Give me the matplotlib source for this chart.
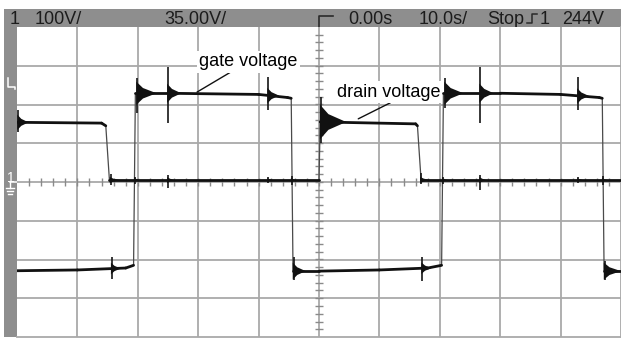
"""
Oscilloscope capture: gate and drain voltage of a switching stage.
"""

import numpy as np
import matplotlib
matplotlib.use("Agg")
import matplotlib.pyplot as plt
from matplotlib.patches import Rectangle, Polygon
from matplotlib.collections import LineCollection

plt.rcParams["font.family"] = ["Liberation Sans", "DejaVu Sans"]

# time in s (10 s/div, 0 s at centre), level in screen divisions
gate_t = [-50.0, -40.0, -32.0, -30.7, -30.4, -25.0, -10.0, -5.2, -4.6, -4.3,
          0.0, 10.0, 18.0, 20.3, 20.6, 30.0, 40.0, 46.4, 46.9, 47.2, 50.0]
gate_v = [-2.29, -2.27, -2.22, -2.15, 2.29, 2.29, 2.26, 2.18, 2.16, -2.30,
          -2.30, -2.27, -2.22, -2.15, 2.29, 2.29, 2.26, 2.18, 2.16, -2.30, -2.30]

drain_t = [-50.0, -36.0, -35.3, -34.7, 0.0, 0.2, 16.0, 16.3, 16.9, 50.0]
drain_v = [1.54, 1.52, 1.45, 0.05, 0.05, 1.55, 1.50, 1.45, 0.05, 0.05]

# ringing bursts: spike extent and decaying envelope
gate_spike_t = [-34.3, -30.1, -25.0, -8.4, -4.2, 17.1, 20.9, 26.7, 42.9, 47.3]
gate_spike_hi = [-1.94, 2.68, 2.97, 2.71, -1.94, -1.94, 2.68, 2.97, 2.71, -2.05]
gate_spike_lo = [-2.50, 1.78, 1.52, 1.86, -2.53, -2.55, 1.90, 1.52, 1.86, -2.53]
gate_ring_len = [1.5, 3.2, 2.2, 1.8, 2.0, 1.5, 3.0, 2.2, 1.8, 2.7]
gate_ring_amp = [0.15, 0.30, 0.25, 0.20, 0.22, 0.15, 0.30, 0.25, 0.20, 0.22]

drain_spike_t = [-49.8, -34.5, -30.4, -25.0, -8.4, -4.5, 0.3, 16.9, 20.6, 26.7, 42.9, 47.0]
drain_spike_hi = [1.86, 0.20, 0.14, 0.18, 0.13, 0.15, 2.19, 0.22, 0.14, 0.18, 0.13, 0.15]
drain_spike_lo = [1.30, -0.08, -0.05, -0.15, -0.03, -0.08, 1.00, -0.05, -0.05, -0.20, -0.03, -0.08]
drain_ring_len = [1.7, 1.5, 0.8, 1.0, 0.8, 0.8, 4.2, 1.5, 0.8, 1.0, 0.8, 0.8]
drain_ring_amp = [0.20, 0.08, 0.05, 0.08, 0.05, 0.05, 0.45, 0.08, 0.05, 0.08, 0.05, 0.05]

header = [("1", 10), ("100V/", 35), ("35.00V/", 164), ("0.00s", 348),
          ("10.0s/", 419), ("Stop", 487), ("1", 540), ("244V", 562)]

W, H = 621, 341
GRID = "#a9a9a9"
PANEL = "#8e8e8e"

fig = plt.figure(figsize=(W / 100, H / 100), dpi=100)

# pixel-space layer for the scope frame
bg = fig.add_axes([0, 0, 1, 1])
bg.set_xlim(0, W)
bg.set_ylim(H, 0)
bg.axis("off")
bg.add_patch(Rectangle((4, 9), W - 4, 18, color=PANEL, lw=0))
bg.add_patch(Rectangle((4, 9), 13, 328, color=PANEL, lw=0))
for txt, x in header:
    bg.text(x, 24, txt, fontsize=13, color="#1c1c1c", ha="left", va="baseline")
# trigger position / edge symbols
bg.plot([319, 319, 333], [27, 16, 16], color="#2a2a2a", lw=1.2)
bg.plot([527, 532, 532, 537], [22.5, 22.5, 13.5, 13.5], color="#2a2a2a", lw=1.1)
# channel markers on the left strip
bg.plot([7.5, 7.5, 14.5, 14.5], [78, 87, 87, 89], color="white", lw=1.1)
bg.text(6.5, 182, "1", fontsize=10, color="white", ha="left", va="baseline")
bg.plot([10, 17], [182, 182], color="white", lw=1.1)
bg.plot([10, 10], [182, 188], color="white", lw=1.0)
for yy, hw in [(188, 4), (191, 3), (194, 2)]:
    bg.plot([10 - hw, 10 + hw], [yy, yy], color="white", lw=1.0)

ax = fig.add_axes([17 / W, 4 / H, 604 / W, 310 / H])
ax.set_xlim(-50, 50)
ax.set_ylim(-4, 4)
ax.set_facecolor("white")
ax.set_xticks(np.arange(-40, 41, 10))
ax.set_yticks(np.arange(-3, 4, 1))
ax.grid(True, color=GRID, lw=1.3)
ax.tick_params(length=0, labelbottom=False, labelleft=False)
for side in ["top", "left"]:
    ax.spines[side].set_visible(False)
for side in ["bottom", "right"]:
    ax.spines[side].set_color(GRID)
    ax.spines[side].set_linewidth(1.3)
ax.set_axisbelow(True)

# centre axes with minor ticks
ax.vlines(np.arange(-48, 49, 2), -0.11, 0.11, color="#8a8a8a", lw=1.0, zorder=1)
ax.hlines(np.arange(-3.8, 3.81, 0.2), -0.65, 0.65, color="#8a8a8a", lw=1.0, zorder=1)


def draw_trace(t, v, spike_t, spike_hi, spike_lo, ring_len, ring_amp):
    pts = np.column_stack([t, v])
    segs = [pts[i:i + 2] for i in range(len(pts) - 1)]
    steep = [abs(v[i + 1] - v[i]) > 0.5 for i in range(len(v) - 1)]
    ax.add_collection(LineCollection([s for s, k in zip(segs, steep) if k],
                                     colors="#4a4a4a", lw=0.9, zorder=3))
    ax.add_collection(LineCollection([s for s, k in zip(segs, steep) if not k],
                                     colors="#111111", lw=2.0, zorder=3,
                                     capstyle="round"))
    for ts, hi, lo, ln, amp in zip(spike_t, spike_hi, spike_lo, ring_len, ring_amp):
        base = np.interp(ts + 0.3, t, v)
        ax.vlines(ts, lo, hi, color="#151515", lw=1.2, zorder=4)
        ax.add_patch(Polygon([(ts - 0.15, base + amp), (ts + 0.3 * ln, base + amp * 0.45),
                              (ts + ln, base), (ts + 0.3 * ln, base - amp * 0.45),
                              (ts - 0.15, base - amp)],
                             closed=True, color="#111111", lw=0, zorder=4))


draw_trace(gate_t, gate_v, gate_spike_t, gate_spike_hi, gate_spike_lo,
           gate_ring_len, gate_ring_amp)
draw_trace(drain_t, drain_v, drain_spike_t, drain_spike_hi, drain_spike_lo,
           drain_ring_len, drain_ring_amp)

box = dict(boxstyle="square,pad=0.12", fc="white", ec="none")
ax.annotate("gate voltage", xy=(-20.2, 2.32), xytext=(-11.7, 3.10),
            fontsize=13, ha="center", va="center", bbox=box, zorder=6,
            arrowprops=dict(arrowstyle="-", color="#111111", lw=1.0,
                            relpos=(0.35, 0.0), shrinkA=0, shrinkB=0))
ax.annotate("drain voltage", xy=(6.5, 1.63), xytext=(11.5, 2.32),
            fontsize=13, ha="center", va="center", bbox=box, zorder=6,
            arrowprops=dict(arrowstyle="-", color="#111111", lw=1.0,
                            relpos=(0.56, 0.0), shrinkA=0, shrinkB=0))

fig.savefig("out.png", dpi=100)
plt.close(fig)
